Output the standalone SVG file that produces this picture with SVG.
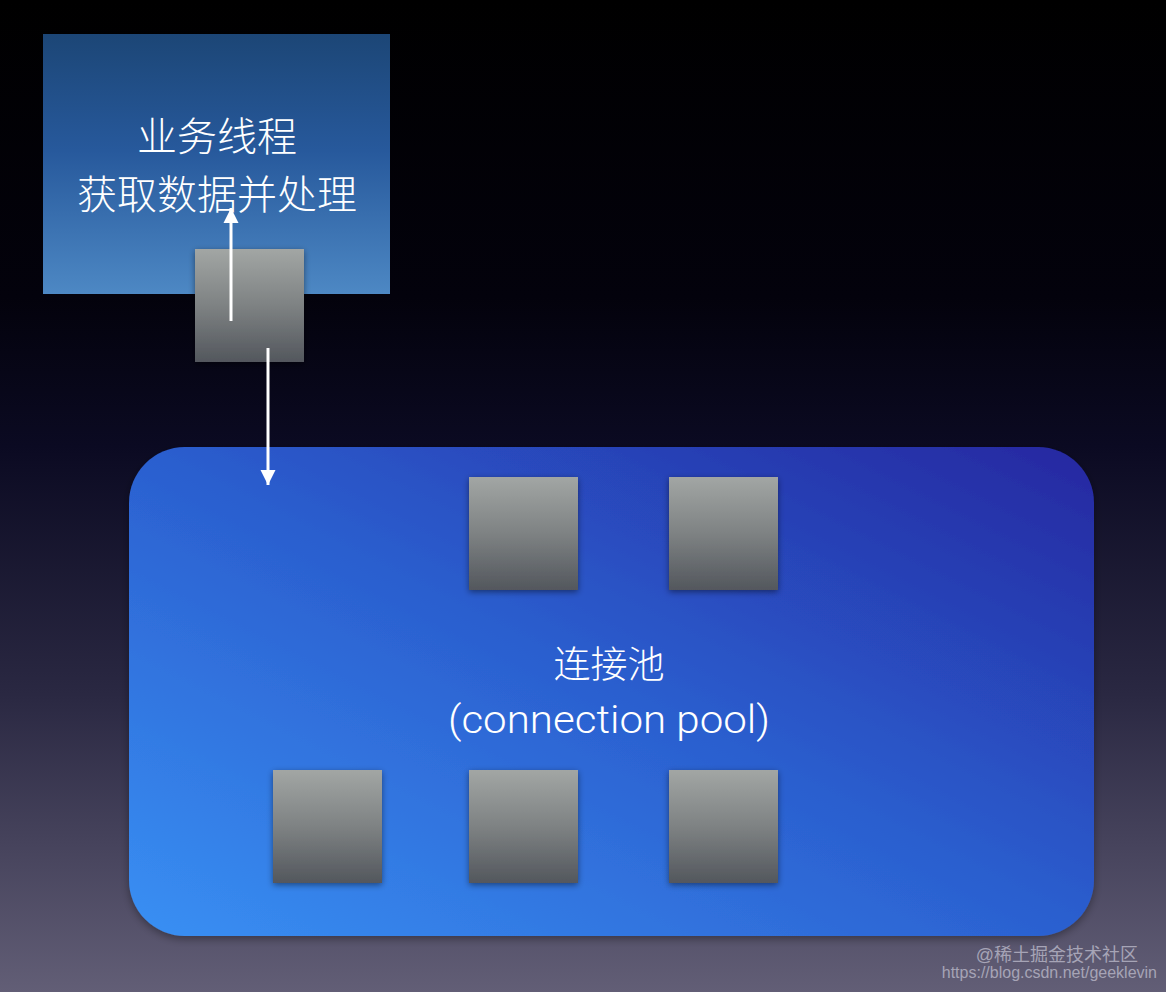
<svg xmlns="http://www.w3.org/2000/svg" width="1166" height="992" viewBox="0 0 1166 992">
  <defs>
    <linearGradient id="bg" x1="0" y1="0" x2="0" y2="1">
      <stop offset="0" stop-color="#000000"/>
      <stop offset="0.3" stop-color="#03020c"/>
      <stop offset="0.45" stop-color="#0b0a22"/>
      <stop offset="0.7" stop-color="#2a2842"/>
      <stop offset="1" stop-color="#625e76"/>
    </linearGradient>
    <linearGradient id="thread" x1="0" y1="0" x2="0" y2="1">
      <stop offset="0" stop-color="#1c4676"/>
      <stop offset="0.45" stop-color="#27599c"/>
      <stop offset="1" stop-color="#4d88c4"/>
    </linearGradient>
    <linearGradient id="pool" x1="0" y1="1" x2="1" y2="0">
      <stop offset="0" stop-color="#3990f4"/>
      <stop offset="0.5" stop-color="#2b5fcf"/>
      <stop offset="1" stop-color="#2527a0"/>
    </linearGradient>
    <linearGradient id="conn" x1="0" y1="0" x2="0" y2="1">
      <stop offset="0" stop-color="#a2a6a4"/>
      <stop offset="0.5" stop-color="#7e8283"/>
      <stop offset="1" stop-color="#53575d"/>
    </linearGradient>
    <filter id="shadow" x="-20%" y="-20%" width="140%" height="140%">
      <feDropShadow dx="0" dy="2" stdDeviation="3" flood-color="#000" flood-opacity="0.45"/>
    </filter>
    <filter id="poolshadow" x="-5%" y="-5%" width="110%" height="110%">
      <feDropShadow dx="0" dy="3" stdDeviation="4" flood-color="#000" flood-opacity="0.35"/>
    </filter>
    <marker id="arrow" viewBox="0 0 10 10" refX="10" refY="5" markerWidth="5" markerHeight="5.3" markerUnits="strokeWidth" orient="auto">
      <path d="M0,0 L10,5 L0,10 Z" fill="#ffffff"/>
    </marker>
    <style>
      .cjk { font-family: "Noto Sans CJK SC", "Noto Sans", sans-serif; font-weight: 300; fill: #ffffff; }
      .lat { font-family: "Roboto", "Open Sans", "Noto Sans CJK SC", sans-serif; font-weight: 300; fill: #ffffff; }
      .conn { fill: url(#conn); filter: url(#shadow); }
      .wm { font-family: "Liberation Sans", "Noto Sans CJK SC", sans-serif; fill: #a6a4b6; }
      .edge { stroke: #ffffff; stroke-width: 3; fill: none; }
    </style>
  </defs>

  <rect x="0" y="0" width="1166" height="992" fill="url(#bg)"/>

  <g id="business-thread">
    <rect x="43" y="34" width="347" height="260" fill="url(#thread)"/>
    <text class="cjk" x="217" y="151" font-size="40" text-anchor="middle">业务线程</text>
    <text class="cjk" x="217" y="209" font-size="40" text-anchor="middle">获取数据并处理</text>
  </g>

  <g id="connection-pool">
    <rect x="129" y="447" width="965" height="489" rx="56" ry="56" fill="url(#pool)" filter="url(#poolshadow)"/>
    <text class="cjk" x="609" y="678" font-size="37" text-anchor="middle">连接池</text>
    <text class="lat" x="609" y="733" font-size="38" text-anchor="middle" textLength="322" lengthAdjust="spacingAndGlyphs">(connection pool)</text>
  </g>

  <g id="conn-active">
    <rect class="conn" x="195" y="249" width="109" height="113"/>
  </g>
  <g id="conn-1">
    <rect class="conn" x="469" y="477" width="109" height="113"/>
  </g>
  <g id="conn-2">
    <rect class="conn" x="669" y="477" width="109" height="113"/>
  </g>
  <g id="conn-3">
    <rect class="conn" x="273" y="770" width="109" height="113"/>
  </g>
  <g id="conn-4">
    <rect class="conn" x="469" y="770" width="109" height="113"/>
  </g>
  <g id="conn-5">
    <rect class="conn" x="669" y="770" width="109" height="113"/>
  </g>

  <g id="connectors">
    <line class="edge" x1="231" y1="321" x2="231" y2="208" marker-end="url(#arrow)"/>
    <line class="edge" x1="268" y1="348" x2="268" y2="485" marker-end="url(#arrow)"/>
  </g>

  <g id="watermark">
    <text class="wm" x="1138" y="961" font-size="18" text-anchor="end">@稀土掘金技术社区</text>
    <text class="wm" x="1157" y="978" font-size="16" text-anchor="end">https://blog.csdn.net/geeklevin</text>
  </g>
</svg>
